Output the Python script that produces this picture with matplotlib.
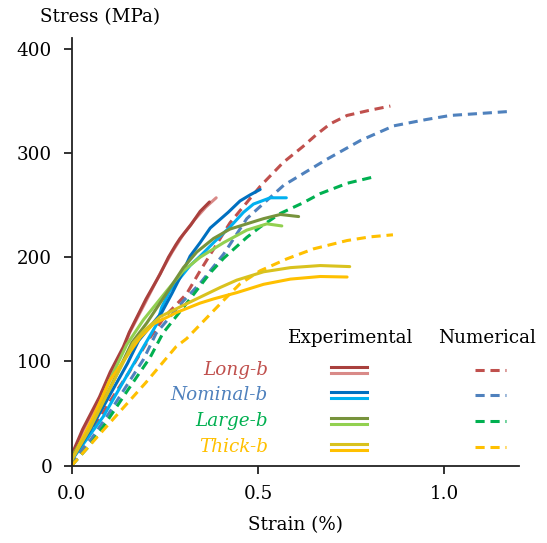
import numpy as np
import matplotlib
matplotlib.use('Agg')
import matplotlib.pyplot as plt
from matplotlib.lines import Line2D

# ---- experimental curves (strain %, stress MPa) ----
long_a_x = [0.0, 0.03, 0.075, 0.104, 0.139, 0.155, 0.2, 0.238, 0.26, 0.28, 0.291, 0.32, 0.345, 0.37]
long_a_y = [10, 35, 66, 90, 114, 128, 160, 184, 200, 212, 218, 231, 244, 253]
long_b_x = [0.0, 0.03, 0.075, 0.104, 0.139, 0.155, 0.2, 0.24, 0.27, 0.30, 0.33, 0.36, 0.388]
long_b_y = [8, 33, 64, 88, 112, 127, 158, 186, 205, 222, 236, 248, 257]

nom_a_x = [0.0, 0.05, 0.1, 0.15, 0.18, 0.242, 0.269, 0.296, 0.318, 0.345, 0.372, 0.42, 0.452, 0.48, 0.506]
nom_a_y = [5, 34, 66, 98, 120, 147, 165, 184, 201, 214, 228, 243, 254, 260, 265]
nom_b_x = [0.0, 0.04, 0.085, 0.13, 0.193, 0.229, 0.242, 0.264, 0.318, 0.345, 0.381, 0.425, 0.461, 0.488, 0.533, 0.576]
nom_b_y = [5, 25, 47, 75, 114, 136, 152, 168, 192, 201, 214, 229, 243, 251, 257, 257]

lar_a_x = [0.0, 0.05, 0.1, 0.162, 0.202, 0.256, 0.30, 0.336, 0.381, 0.425, 0.47, 0.515, 0.56, 0.609]
lar_a_y = [8, 36, 72, 118, 137, 166, 190, 205, 218, 227, 232, 237, 241, 239]
lar_b_x = [0.0, 0.05, 0.1, 0.148, 0.193, 0.256, 0.30, 0.345, 0.408, 0.47, 0.524, 0.564]
lar_b_y = [8, 38, 80, 116, 140, 168, 187, 200, 214, 226, 232, 230]

thk_a_x = [0.0, 0.05, 0.1, 0.166, 0.193, 0.238, 0.318, 0.399, 0.443, 0.515, 0.587, 0.667, 0.746]
thk_a_y = [5, 36, 72, 118, 129, 143, 157, 171, 178, 186, 190, 192, 191]
thk_b_x = [0.0, 0.06, 0.103, 0.184, 0.22, 0.282, 0.345, 0.381, 0.443, 0.515, 0.587, 0.667, 0.739]
thk_b_y = [5, 48, 82, 123, 136, 147, 156, 160, 166, 174, 179, 181.5, 181]

# ---- numerical curves ----
long_n_x = [0.0, 0.05, 0.1, 0.155, 0.205, 0.25, 0.309, 0.345, 0.425, 0.506, 0.568, 0.62, 0.658, 0.694, 0.739, 0.80, 0.855]
long_n_y = [0, 30, 60, 90, 120, 143, 165, 187, 233, 268, 291, 306, 318, 328, 336, 341, 345]
nom_n_x = [0.0, 0.05, 0.1, 0.15, 0.193, 0.227, 0.3, 0.345, 0.408, 0.47, 0.569, 0.685, 0.775, 0.864, 0.95, 1.016, 1.1, 1.182]
nom_n_y = [0, 24, 50, 78, 102, 127, 158, 175, 203, 237, 269, 294, 312, 326, 332, 336, 338, 340]
lar_n_x = [0.0, 0.05, 0.094, 0.15, 0.211, 0.245, 0.318, 0.372, 0.408, 0.47, 0.506, 0.56, 0.62, 0.667, 0.74, 0.81]
lar_n_y = [0, 20, 42, 72, 104, 127, 160, 185, 199, 219, 229, 242, 252, 261, 271, 277]
thk_n_x = [0.0, 0.03, 0.1, 0.2, 0.28, 0.309, 0.417, 0.452, 0.506, 0.578, 0.649, 0.739, 0.80, 0.862]
thk_n_y = [0, 12, 40, 80, 114, 122, 162, 174.5, 187, 198.5, 208, 216, 219.5, 221.5]

specimens = ['Long-b', 'Nominal-b', 'Large-b', 'Thick-b']
text_colors = ['#C0504D', '#4F81BD', '#00B050', '#FFC000']
exp_colors = [('#A9403D', '#D98A88'), ('#0070C0', '#00B0F0'),
              ('#77933C', '#92D050'), ('#D9C21E', '#FFC000')]
num_colors = ['#C0504D', '#4F81BD', '#00B050', '#FFC000']

exp_data = [((long_a_x, long_a_y), (long_b_x, long_b_y)),
            ((nom_a_x, nom_a_y), (nom_b_x, nom_b_y)),
            ((lar_a_x, lar_a_y), (lar_b_x, lar_b_y)),
            ((thk_a_x, thk_a_y), (thk_b_x, thk_b_y))]
num_data = [(long_n_x, long_n_y), (nom_n_x, nom_n_y),
            (lar_n_x, lar_n_y), (thk_n_x, thk_n_y)]

plt.rcParams['font.family'] = 'DejaVu Serif'
FS = 13.2
W, H = 547, 543
fig = plt.figure(figsize=(W / 100, H / 100), dpi=100)
ax = fig.add_axes([71.5 / W, 1 - 465.7 / H, (519 - 71.5) / W, (465.7 - 38.3) / H])

dash = (3.0, 1.9)
for (nx, ny), c in zip(num_data, num_colors):
    ax.plot(nx, ny, color=c, lw=2.2, ls=(0, dash))
for pair, cols in zip(exp_data, exp_colors):
    # light curve underneath, dark one on top
    for (ex, ey), c in reversed(list(zip(pair, cols))):
        ax.plot(ex, ey, color=c, lw=2.2, solid_capstyle='round')

ax.set_xlim(0, 1.2)
ax.set_ylim(0, 410)
ax.set_xticks([0, 0.5, 1.0])
ax.set_xticklabels(['0.0', '0.5', '1.0'])
ax.set_yticks([0, 100, 200, 300, 400])
for s in ['top', 'right']:
    ax.spines[s].set_visible(False)
for s in ['left', 'bottom']:
    ax.spines[s].set_color('#222222')
    ax.spines[s].set_linewidth(1.3)
ax.tick_params(axis='both', labelsize=FS, length=6, width=1.3, color='#222222', pad=8)
ax.set_xlabel('Strain (%)', fontsize=FS, labelpad=9)
fig.text(40 / W, 1 - 17 / H, 'Stress (MPa)', fontsize=FS, ha='left', va='center')

# ---- manual legend ----
fig.text(351 / W, 1 - 338 / H, 'Experimental', fontsize=FS, ha='center', va='center')
fig.text(487 / W, 1 - 338 / H, 'Numerical', fontsize=FS, ha='center', va='center')
rows_y = [370, 395, 421, 447]
for name, tc, ec, nc, ry in zip(specimens, text_colors, exp_colors, num_colors, rows_y):
    fig.text(268 / W, 1 - ry / H, name, fontsize=FS, style='italic', color=tc,
             ha='right', va='center')
    for c, off in zip(ec, (-2.7, 2.7)):
        fig.add_artist(Line2D([331 / W, 367 / W], [1 - (ry + off) / H] * 2,
                              color=c, lw=2.2, transform=fig.transFigure))
    fig.add_artist(Line2D([475 / W, 506 / W], [1 - ry / H] * 2, color=nc, lw=2.2,
                          ls=(0, dash), transform=fig.transFigure))

fig.savefig('out.png', dpi=100)
